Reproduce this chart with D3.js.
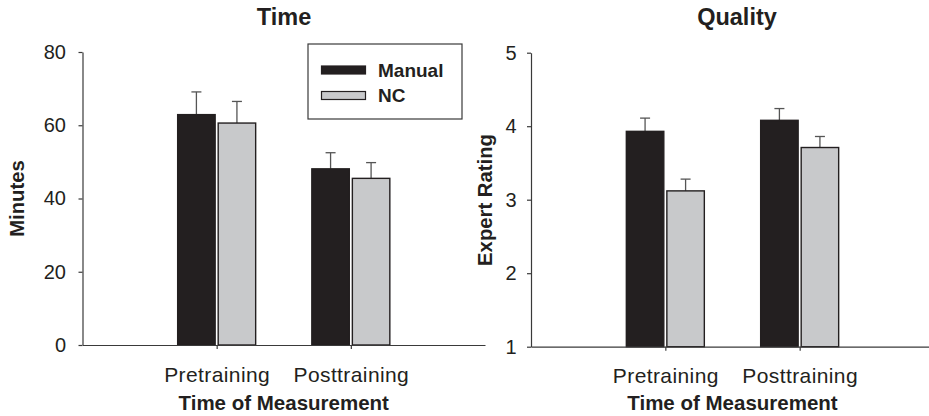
<!DOCTYPE html>
<html>
<head>
<meta charset="utf-8">
<script src="https://cdn.jsdelivr.net/npm/d3@7"></script>
<style>
  html, body { margin: 0; padding: 0; background: #fff; }
  svg { display: block; }
  text { font-family: "Liberation Sans", Arial, Helvetica, sans-serif; fill: #231f20; }
</style>
</head>
<body>
<svg id="chart" width="929" height="416"></svg>
<script>
// ---- data ----
const categories = ["Pretraining", "Posttraining"];
const seriesNames = ["Manual", "NC"];
const timeManual = [62.9, 48.1];
const timeManualErr = [6.2, 4.4];
const timeNC = [60.6, 45.5];
const timeNCErr = [5.9, 4.3];
const qualityManual = [3.93, 4.08];
const qualityManualErr = [0.18, 0.16];
const qualityNC = [3.12, 3.71];
const qualityNCErr = [0.16, 0.15];
const timeTicks = [0, 20, 40, 60, 80];
const qualityTicks = [1, 2, 3, 4, 5];
const xAxisTitle = "Time of Measurement";

// ---- style ----
const colors = { Manual: "#231f20", NC: "#c8c9cb" };
const ink = "#231f20";
const axisColor = "#3a3a3a";
const errColor = "#555555";
const FONT = "Liberation Sans, Arial, sans-serif";

const svg = d3.select("#chart");
svg.append("rect").attr("width", 929).attr("height", 416).attr("fill", "#fff");

function panel(cfg) {
  const g = svg.append("g");
  const x = d3.scalePoint().domain(categories).range(cfg.xRange).padding(1);
  const y = d3.scaleLinear().domain(cfg.yDomain).range(cfg.yRange);
  const inner = d3.scaleBand().domain(seriesNames).range([-39, 39]).paddingInner(0.075);

  const rows = [];
  categories.forEach((c, i) => {
    rows.push({ cat: c, s: "Manual", v: cfg.manual[i], e: cfg.manualErr[i] });
    rows.push({ cat: c, s: "NC", v: cfg.nc[i], e: cfg.ncErr[i] });
  });

  // error bars (upper only)
  const eg = g.append("g");
  rows.forEach(d => {
    const cx = x(d.cat) + inner(d.s) + inner.bandwidth() / 2;
    eg.append("line").attr("x1", cx).attr("x2", cx)
      .attr("y1", y(d.v)).attr("y2", y(d.v + d.e))
      .attr("stroke", errColor).attr("stroke-width", 1.3);
    eg.append("line").attr("x1", cx - 5).attr("x2", cx + 5)
      .attr("y1", y(d.v + d.e)).attr("y2", y(d.v + d.e))
      .attr("stroke", errColor).attr("stroke-width", 1.3);
  });

  // bars
  g.append("g").selectAll("rect").data(rows).join("rect")
    .attr("x", d => x(d.cat) + inner(d.s))
    .attr("width", inner.bandwidth())
    .attr("y", d => y(d.v))
    .attr("height", d => y(cfg.yDomain[0]) - y(d.v))
    .attr("fill", d => colors[d.s])
    .attr("stroke", ink).attr("stroke-width", 1.4);

  // y axis
  const ya = g.append("g").attr("transform", `translate(${cfg.xRange[0]},0)`)
    .call(d3.axisLeft(y).tickValues(cfg.ticks).tickSize(4).tickSizeOuter(0)
      .tickPadding(cfg.tickPad).tickFormat(d3.format("d")));
  ya.select(".domain").attr("stroke", axisColor).attr("stroke-width", 1.2);
  ya.selectAll(".tick line").attr("stroke", axisColor).attr("stroke-width", 1.2);
  ya.selectAll(".tick text").attr("font-size", 20).attr("fill", ink)
    .attr("font-family", FONT);

  // x axis
  const xa = g.append("g").attr("transform", `translate(0,${cfg.yRange[0]})`)
    .call(d3.axisBottom(x).tickSize(4).tickSizeOuter(0));
  xa.select(".domain").attr("stroke", axisColor).attr("stroke-width", 1.2);
  xa.selectAll(".tick line").attr("stroke", axisColor).attr("stroke-width", 1.2);
  xa.selectAll(".tick text").attr("font-size", 21).attr("fill", ink)
    .attr("font-family", FONT).attr("letter-spacing", 0.4)
    .attr("y", 36.5).attr("dy", 0);

  // titles
  const xMid = (cfg.xRange[0] + cfg.xRange[1]) / 2;
  g.append("text").attr("x", cfg.titleX).attr("y", 25)
    .attr("text-anchor", "middle").attr("font-weight", "bold")
    .attr("font-size", 23.5).text(cfg.title);
  g.append("text").attr("x", xMid).attr("y", 410)
    .attr("text-anchor", "middle").attr("font-weight", "bold")
    .attr("font-size", 20.5).text(xAxisTitle);
  g.append("text").attr("text-anchor", "middle").attr("font-weight", "bold")
    .attr("font-size", 20.3)
    .attr("transform", `translate(${cfg.yLabelX},${cfg.yLabelY}) rotate(-90)`)
    .text(cfg.yLabel);
  return { x, y };
}

panel({
  xRange: [82.5, 485], yDomain: [0, 80], yRange: [345, 52],
  ticks: timeTicks, manual: timeManual, manualErr: timeManualErr,
  nc: timeNC, ncErr: timeNCErr, title: "Time", titleX: 284, tickPad: 12.5,
  yLabel: "Minutes", yLabelX: 24, yLabelY: 198.5
});
panel({
  xRange: [531, 934], yDomain: [1, 5], yRange: [346.7, 52.7],
  ticks: qualityTicks, manual: qualityManual, manualErr: qualityManualErr,
  nc: qualityNC, ncErr: qualityNCErr, title: "Quality", titleX: 737, tickPad: 10.5,
  yLabel: "Expert Rating", yLabelX: 492, yLabelY: 200
});

// legend
const lg = svg.append("g").attr("transform", "translate(308,44)");
lg.append("rect").attr("width", 154).attr("height", 75)
  .attr("fill", "#fff").attr("stroke", axisColor).attr("stroke-width", 1.2);
seriesNames.forEach((s, i) => {
  const yy = 22 + i * 25.5;
  lg.append("rect").attr("x", 13.5).attr("y", yy).attr("width", 44).attr("height", 8)
    .attr("fill", colors[s]).attr("stroke", ink).attr("stroke-width", 1.2);
  lg.append("text").attr("x", 70).attr("y", yy + 10.5)
    .attr("font-size", 19).attr("font-weight", "bold").text(s);
});
</script>
</body>
</html>
